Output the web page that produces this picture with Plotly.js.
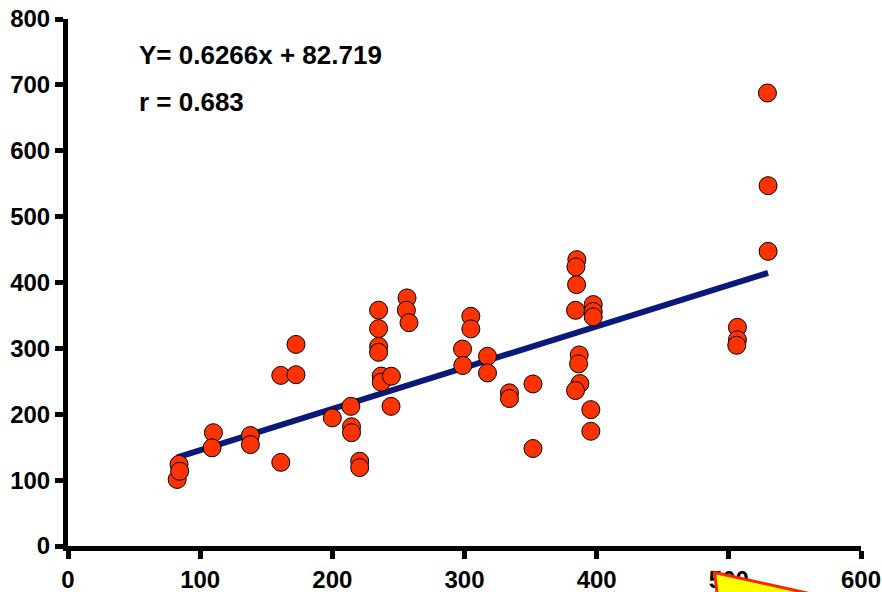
<!DOCTYPE html>
<html>
<head>
<meta charset="utf-8">
<script src="https://cdn.plot.ly/plotly-3.0.1.min.js"></script>
<style>html,body{margin:0;padding:0;background:#fff;}#chart{width:882px;height:592px;}</style>
</head>
<body>
<div id="chart"></div>
<script>
// Data
var xValues = [82.6, 84, 84.5, 110, 109, 138, 138, 161, 172.5, 161, 172.5, 200, 214, 214.5, 214.5, 220.7, 220.7,
  235, 235, 235, 235, 237, 237, 244.7, 244.4, 256.5, 256, 258, 304.8, 304.8, 298.5, 298.7, 317.4, 317.4,
  334, 334, 351.8, 351.8, 385, 384.3, 384.8, 384, 397.4, 397.4, 397.4, 386.8, 386.3, 387.3, 384, 395.6, 395.6,
  529.2, 529.7, 529.7, 506.5, 506.5, 506];
var yValues = [101, 124, 113.5, 172, 149, 167.7, 154, 127, 306, 259, 260, 194.5, 212, 181, 172, 128.7, 119,
  358, 330, 303, 294, 258, 248.6, 257.7, 212, 376.6, 358, 339, 348.7, 329.6, 299, 274, 288, 262.8,
  232.5, 223.8, 246, 148, 434.7, 423.7, 396.8, 357.8, 366.5, 356, 347.8, 290, 276.5, 246.6, 236, 207, 174.2,
  687.7, 547, 447.3, 332, 313, 304.7];
var slope = 0.6266;
var intercept = 82.719;
var xTicks = [0, 100, 200, 300, 400, 500, 600];
var yTicks = [0, 100, 200, 300, 400, 500, 600, 700, 800];
var eqText = "Y= 0.6266x + 82.719";
var rText = "r = 0.683";

var xMin = Math.min.apply(null, xValues);
var xMax = Math.max.apply(null, xValues);
var lineX = [xMin, xMax];
var lineY = lineX.map(function (v) { return slope * v + intercept; });

function mkFont(sz) {
  return {family: "Liberation Sans, Arial, sans-serif", size: sz, color: "#000", weight: "bold"};
}

var L = 68, T = 19, W = 882, H = 592, R = 20.5, B = 46;
var pw = W - L - R, ph = H - T - B;
function px(x) { return (x - L) / pw; }
function py(y) { return (H - B - y) / ph; }

var traces = [
  {
    x: lineX, y: lineY, mode: "lines", type: "scatter",
    line: {color: "#0b1a78", width: 6}, hoverinfo: "skip", showlegend: false
  },
  {
    x: xValues, y: yValues, mode: "markers", type: "scatter",
    marker: {color: "#ff3300", size: 18, line: {color: "#000", width: 1}},
    showlegend: false
  }
];

var layout = {
  width: W, height: H,
  margin: {l: L, r: R, t: T, b: B, pad: 0},
  paper_bgcolor: "#fff", plot_bgcolor: "#fff",
  showlegend: false,
  font: mkFont(24),
  xaxis: {
    range: [0, 600], tickvals: xTicks, ticktext: xTicks.map(String),
    showgrid: false, zeroline: false, showline: true, linewidth: 5, linecolor: "#000",
    ticks: "outside", ticklen: 8, tickwidth: 5, tickcolor: "#000",
    tickfont: mkFont(24), ticklabelstandoff: 0, ticklabeloverflow: "allow"
  },
  yaxis: {
    range: [0, 800], tickvals: yTicks, ticktext: yTicks.map(String),
    showgrid: false, zeroline: false, showline: true, linewidth: 5, linecolor: "#000",
    ticks: "outside", ticklen: 8, tickwidth: 5, tickcolor: "#000",
    tickfont: mkFont(24), ticklabelstandoff: 0, ticklabeloverflow: "allow"
  },
  annotations: [
    {xref: "paper", yref: "paper", x: px(137), y: py(55), xanchor: "left", yanchor: "middle",
     text: eqText, showarrow: false, font: mkFont(26)},
    {xref: "paper", yref: "paper", x: px(137), y: py(102), xanchor: "left", yanchor: "middle",
     text: rText, showarrow: false, font: mkFont(26)}
  ],
  shapes: [
    {type: "path", xref: "paper", yref: "paper",
     path: "M " + px(715) + "," + py(572.5) + " L " + px(830) + "," + py(598) + " L " + px(718) + "," + py(598) + " Z",
     fillcolor: "#ffff00", line: {color: "#ff2200", width: 3}, layer: "above"}
  ]
};

Plotly.newPlot("chart", traces, layout, {displayModeBar: false, staticPlot: true});
</script>
</body>
</html>
